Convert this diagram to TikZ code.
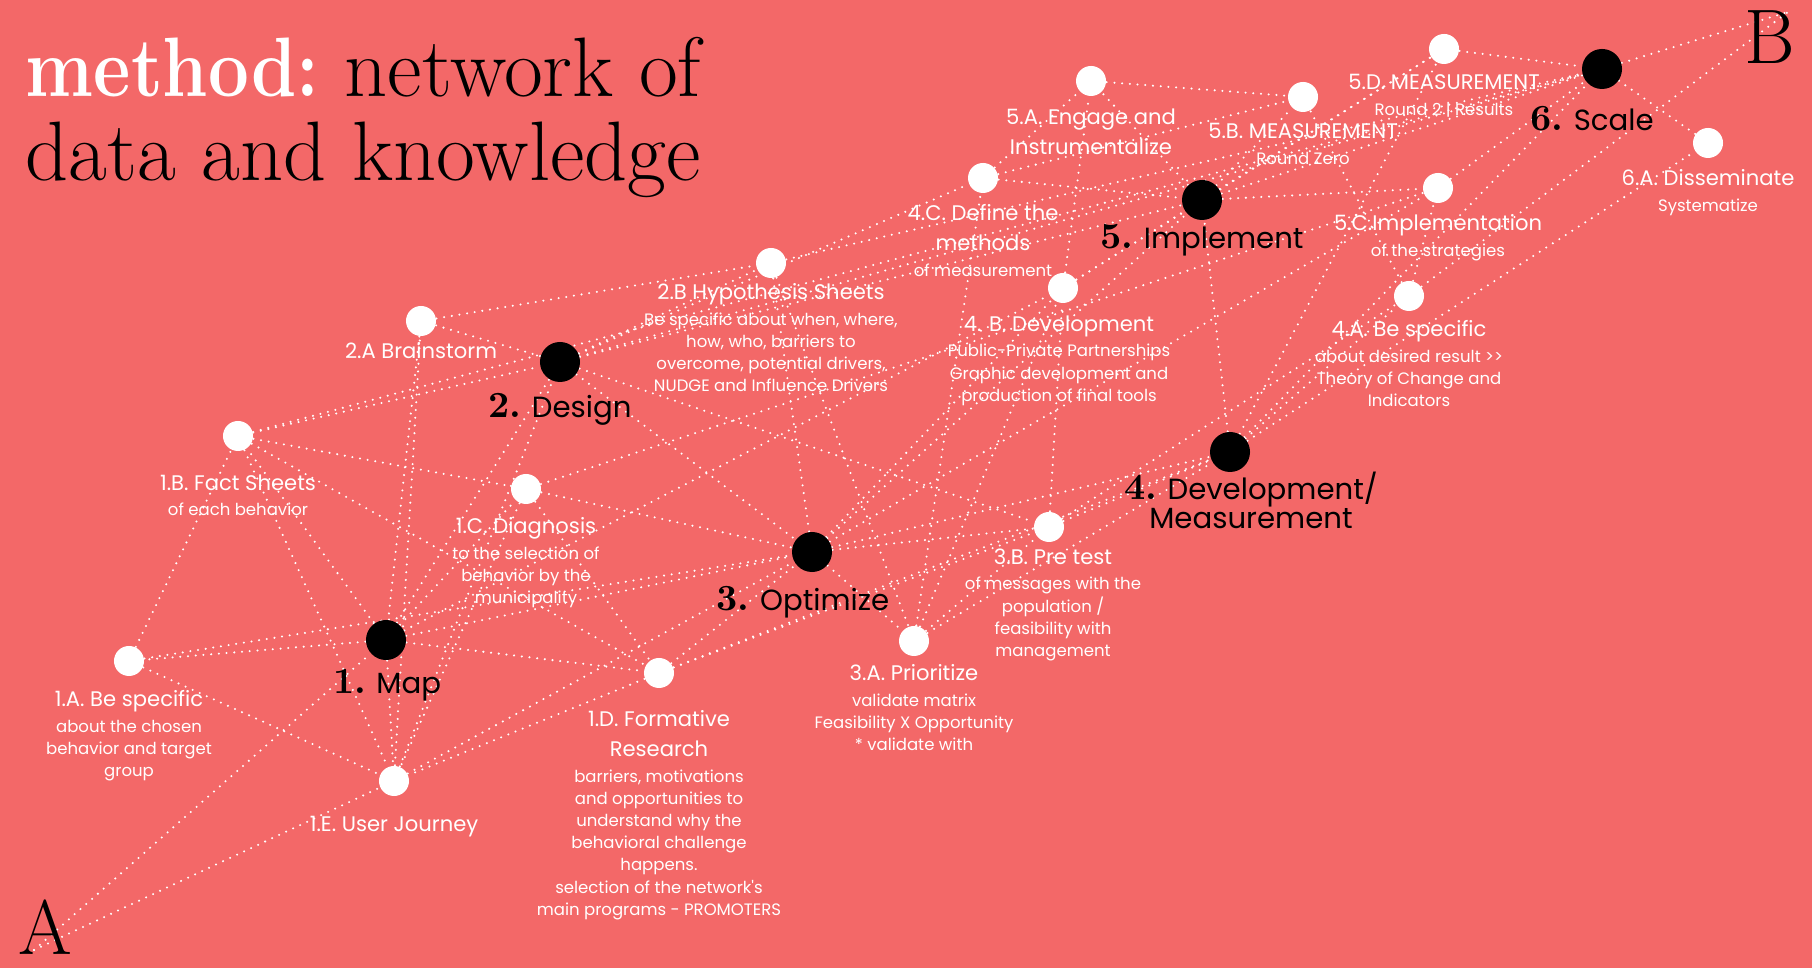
\documentclass[tikz,border=0pt]{standalone}
\usepackage{graphicx}
\usepackage{fontspec}
\newfontfamily\pop{Poppins}
\definecolor{coral}{RGB}{243,104,104}
\pgfdeclarelayer{paper}
\pgfdeclarelayer{links}
\pgfsetlayers{paper,links,main}
\tikzset{
  hub/.style={circle, fill=black, minimum size=0.4cm, inner sep=0},
  spot/.style={circle, fill=white, minimum size=0.3cm, inner sep=0},
  link/.style={white, line width=0.65pt, line cap=round, dash pattern=on 0pt off 2.2pt},
  tag/.style={white, align=center, anchor=north, inner sep=0, font=\pop\fontsize{4.7}{6.3}\selectfont},
  hubtag/.style={black, align=center, inner sep=0, font=\pop\fontsize{8.3}{8.3}\selectfont}
}
\newcommand\headline[1]{{\fontsize{6}{8.5}\selectfont #1}}
\newcommand\stepno[1]{{\rmfamily\bfseries\fontsize{10.5}{10}\selectfont #1}}
\begin{document}
\begin{tikzpicture}[x=0.01cm, y=-0.01cm]
  \useasboundingbox (0,0) rectangle (1812,968);
  \begin{pgfonlayer}{paper}
    \fill[coral] (0,0) rectangle (1812,968);
  \end{pgfonlayer}

  % title and the two ends
  \node[anchor=north west, inner sep=0, align=left, font=\fontsize{24}{23.9}\selectfont] (title) at (25,37)
    {\textcolor{white}{\bfseries\scalebox{0.86}[1]{method:}} network of\\data and knowledge};
  \node[anchor=base west, inner sep=0, font=\fontsize{22}{22}\selectfont] (letA) at (18,955) {A};
  \node[anchor=base west, inner sep=0, font=\fontsize{22}{22}\selectfont] (letB) at (1744,64) {B};
  \coordinate (A) at (34,950);
  \coordinate (B) at (1788,12);

  % main steps
  \draw
    (386,640) node[hub] (m1){}
    (560,362) node[hub] (m2){}
    (812,552) node[hub] (m3){}
    (1230,452) node[hub] (m4){}
    (1202,200) node[hub] (m5){}
    (1602,69) node[hub] (m6){};

  % sub steps
  \draw
    (129,661) node[spot] (w1a){}
    (238,436) node[spot] (w1b){}
    (526,489) node[spot] (w1c){}
    (659,673) node[spot] (w1d){}
    (394,781) node[spot] (w1e){}
    (421,321) node[spot] (w2a){}
    (771,263) node[spot] (w2b){}
    (914,641) node[spot] (w3a){}
    (1049,527) node[spot] (w3b){}
    (1409,296) node[spot] (w4a){}
    (1063,288) node[spot] (w4b){}
    (983,178) node[spot] (w4c){}
    (1091,81) node[spot] (w5a){}
    (1303,97) node[spot] (w5b){}
    (1438,188) node[spot] (w5c){}
    (1444,49) node[spot] (w5d){}
    (1708,143) node[spot] (w6a){};

  % labels of the main steps
  \node[hubtag] (k1) at (387,685) {\stepno{1.} Map};
  \node[hubtag] (k2) at (560,409) {\stepno{2.} Design};
  \node[hubtag] (k3) at (803,602) {\stepno{3.} Optimize};
  \node[hubtag] (k4) at (1251,500) {\stepno{4.} Development/\\Measurement};
  \node[hubtag] (k5) at (1202,240) {\stepno{5.} Implement};
  \node[hubtag] (k6) at (1592,119) {\stepno{6.} Scale};

  % labels of the sub steps
  \node[tag] (l1a) at (129,690) {\headline{1.A. Be specific}\\[1pt]about the chosen\\behavior and target\\group};
  \node[tag] (l1b) at (238,474) {\headline{1.B. Fact Sheets}\\[1pt]of each behavior};
  \node[tag] (l1c) at (526,517) {\headline{1.C. Diagnosis}\\[1pt]to the selection of\\behavior by the\\municipality};
  \node[tag] (l1d) at (659,710) {\headline{1.D. Formative}\\[2.2pt]\headline{Research}\\[1pt]barriers, motivations\\and opportunities to\\understand why the\\behavioral challenge\\happens.\\selection of the network's\\main programs - PROMOTERS};
  \node[tag] (l1e) at (394,816) {\headline{1.E. User Journey}};
  \node[tag] (l2a) at (421,342) {\headline{2.A Brainstorm}};
  \node[tag] (l2b) at (771,283) {\headline{2.B Hypothesis Sheets}\\[1pt]Be specific about when, where,\\how, who, barriers to\\overcome, potential drivers,\\NUDGE and Influence Drivers};
  \node[tag] (l3a) at (914,664) {\headline{3.A. Prioritize}\\[1pt]validate matrix\\Feasibility X Opportunity\\* validate with};
  \node[tag] (l3b) at (1053,548) {\headline{3.B. Pre test}\\[1pt]of messages with the\\population /\\feasibility with\\management};
  \node[tag] (l4a) at (1409,320) {\headline{4.A. Be specific}\\[1pt]about desired result >{}>\\Theory of Change and\\Indicators};
  \node[tag] (l4b) at (1059,315) {\headline{4. B. Development}\\[1pt]Public-Private Partnerships\\Graphic development and\\production of final tools};
  \node[tag] (l4c) at (983,204) {\headline{4.C. Define the}\\[2.2pt]\headline{methods}\\[1pt]of measurement};
  \node[tag] (l5a) at (1091,108) {\headline{5.A. Engage and}\\[2.2pt]\headline{Instrumentalize}};
  \node[tag] (l5b) at (1303,123) {\headline{5.B. MEASUREMENT}\\[1pt]Round Zero};
  \node[tag] (l5c) at (1438,214) {\headline{5.C.Implementation}\\[1pt]of the strategies};
  \node[tag] (l5d) at (1444,74) {\headline{5.D. MEASUREMENT}\\[1pt]Round 2 | Results};
  \node[tag] (l6a) at (1708,169) {\headline{6.A. Disseminate}\\[1pt]Systematize};

  % the network
  \begin{pgfonlayer}{links}
  \begin{scope}[link]
    \draw (A) to (m1);
    \draw (A) to (w1e);
    \draw (m1) to (w1a);
    \draw (m1) to (w1b);
    \draw (m1) to (w1c);
    \draw (m1) to (w1d);
    \draw (m1) to (w1e);
    \draw (m1) to (m2);
    \draw (m1) to (m3);
    \draw (m1) to (w4b);
    \draw (w1a) to (w1b);
    \draw (w1a) to (w1e);
    \draw (w1a) to (m3);
    \draw (w1b) to (w1c);
    \draw (w1b) to (w1d);
    \draw (w1b) to (w1e);
    \draw (w1b) to (m2);
    \draw (w1b) to (m6);
    \draw (w1c) to (w1d);
    \draw (w1c) to (w1e);
    \draw (w1c) to (m3);
    \draw (w1c) to (w5c);
    \draw (w1d) to (w1e);
    \draw (w1d) to (m3);
    \draw (w1d) to (w3b);
    \draw (w1d) to (m4);
    \draw (w1e) to (m2);
    \draw (w1e) to (m3);
    \draw (w1e) to (w2a);
    \draw (w2a) to (m1);
    \draw (w2a) to (m2);
    \draw (w2a) to (w2b);
    \draw (m2) to (w2b);
    \draw (m2) to (m3);
    \draw (m2) to (w3b);
    \draw (m2) to (w4c);
    \draw (m2) to (m5);
    \draw (m2) to (m6);
    \draw (w2b) to (m3);
    \draw (w2b) to (w3a);
    \draw (w2b) to (m6);
    \draw (m3) to (w3a);
    \draw (m3) to (w3b);
    \draw (m3) to (m4);
    \draw (m3) to (m5);
    \draw (m3) to (w4b);
    \draw (m3) to (w5c);
    \draw (w3a) to (w3b);
    \draw (w3a) to (w4b);
    \draw (w3a) to (w4c);
    \draw (w3a) to (m4);
    \draw (w3b) to (m4);
    \draw (w3b) to (w4a);
    \draw (w3b) to (w4b);
    \draw (m4) to (w4a);
    \draw (m4) to (m5);
    \draw (m4) to (w5d);
    \draw (m4) to (w6a);
    \draw (m4) to (m6);
    \draw (w4a) to (w5b);
    \draw (w4a) to (w5c);
    \draw (w4a) to (B);
    \draw (w4b) to (m5);
    \draw (w4b) to (w5a);
    \draw (w4b) to (w5d);
    \draw (w4c) to (w5a);
    \draw (w4c) to (w5b);
    \draw (w4c) to (m5);
    \draw (m5) to (w5a);
    \draw (m5) to (w5b);
    \draw (m5) to (w5c);
    \draw (m5) to (w5d);
    \draw (m5) to (m6);
    \draw (w5a) to (w5b);
    \draw (w5c) to (m6);
    \draw (w5d) to (m6);
    \draw (m6) to (w6a);
    \draw (m6) to (B);
  \end{scope}
  \end{pgfonlayer}
\end{tikzpicture}
\end{document}
